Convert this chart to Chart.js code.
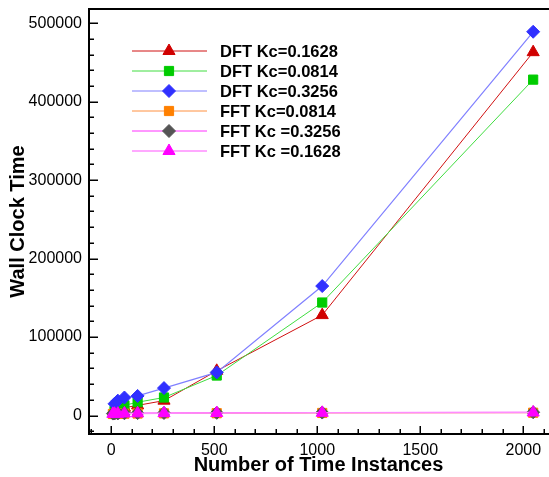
<!DOCTYPE html>
<html>
<head>
<meta charset="utf-8">
<script src="https://cdn.jsdelivr.net/npm/chart.js@4.4.1/dist/chart.umd.min.js"></script>
<style>
  html, body { margin: 0; padding: 0; background: #fff; }
  #wrap { width: 549px; height: 477px; }
</style>
</head>
<body>
<div id="wrap"><canvas id="c" width="549" height="477"></canvas></div>
<script>
// Problem sizes (number of time instances)
const dftSizes = [16, 32, 64, 128, 256, 512, 1024, 2048];
const fftSizes = [8, 16, 32, 64, 128, 256, 512, 1024, 2048];

// Wall clock time per method / Kc
const dftKc1628 = [5000, 7000, 10000, 13000, 19000, 57000, 128000, 463000];
const dftKc0814 = [6000, 9000, 13000, 17000, 23000, 51000, 144000, 428000];
const dftKc3256 = [15000, 19000, 23000, 25000, 35000, 55000, 165000, 489000];
const fftKc0814 = [2000, 2100, 2200, 2400, 2600, 2800, 3000, 3300, 3600];
const fftKc3256 = [2500, 2600, 2700, 2900, 3100, 3300, 3500, 3800, 4200];
const fftKc1628 = [2200, 2300, 2400, 2600, 2800, 3000, 3200, 3500, 3900];

const seriesNames = ['DFT Kc=0.1628', 'DFT Kc=0.0814', 'DFT Kc=0.3256',
                     'FFT Kc=0.0814', 'FFT Kc =0.3256', 'FFT Kc =0.1628'];

// Axis ticks
const xTicks = [0, 500, 1000, 1500, 2000];
const yTicks = [0, 100000, 200000, 300000, 400000, 500000];
const xMinorStep = 100;
const yMinorStep = 20000;

const xRange = [-108, 2120];
const yRange = [-23500, 518000];

function pts(xs, ys) { return xs.map((x, i) => ({ x: x, y: ys[i] })); }

const styles = [
  { line: '#d01010', lw: 1,   fill: '#d00000', shape: 'triangle', r: 7.5 },
  { line: '#40dd40', lw: 1,   fill: '#00cc00', shape: 'rect',     r: 7 },
  { line: '#8080ff', lw: 1.2, fill: '#3030ff', shape: 'rectRot',  r: 7 },
  { line: '#ff9040', lw: 1,   fill: '#ff8000', shape: 'rect',     r: 7 },
  { line: '#ff30ff', lw: 1,   fill: '#555555', shape: 'rectRot',  r: 7 },
  { line: '#ff8cff', lw: 1.6, fill: '#ff00ff', shape: 'triangle', r: 7.5 }
];

const seriesData = [
  pts(dftSizes, dftKc1628),
  pts(dftSizes, dftKc0814),
  pts(dftSizes, dftKc3256),
  pts(fftSizes, fftKc0814),
  pts(fftSizes, fftKc3256),
  pts(fftSizes, fftKc1628)
];

const datasets = seriesData.map((d, i) => ({
  label: seriesNames[i],
  data: d,
  borderColor: styles[i].line,
  borderWidth: styles[i].lw,
  backgroundColor: styles[i].fill,
  pointBackgroundColor: styles[i].fill,
  pointBorderColor: styles[i].fill,
  pointBorderWidth: 1,
  pointStyle: styles[i].shape,
  pointRadius: styles[i].r - 0.5,
  pointHoverRadius: styles[i].r - 0.5,
  tension: 0,
  fill: false,
  order: seriesNames.length - i
}));

// Let the plot area run to the right edge of the canvas
const fullWidthArea = {
  id: 'fullWidthArea',
  afterLayout(chart) {
    const a = chart.chartArea, x = chart.scales.x;
    a.right = chart.width - 1;
    a.width = a.right - a.left;
    x.right = a.right;
    x.width = x.right - x.left;
    x.configure();
  }
};

// Inward major/minor tick marks and the top frame line
const frameTicks = {
  id: 'frameTicks',
  afterDraw(chart) {
    const { ctx, chartArea: a, scales: { x, y } } = chart;
    ctx.save();
    ctx.strokeStyle = '#000';
    ctx.lineWidth = 2;
    ctx.beginPath();
    ctx.moveTo(a.left - 1, a.top);
    ctx.lineTo(a.right + 2, a.top);
    ctx.stroke();

    ctx.lineWidth = 1.5;
    ctx.beginPath();
    for (let v = Math.ceil(yRange[0] / yMinorStep) * yMinorStep; v <= yRange[1]; v += yMinorStep) {
      const py = Math.round(y.getPixelForValue(v)) + 0.25;
      const len = yTicks.includes(v) ? 9 : 5;
      ctx.moveTo(a.left, py);
      ctx.lineTo(a.left + len, py);
    }
    for (let v = Math.ceil(xRange[0] / xMinorStep) * xMinorStep; v <= xRange[1]; v += xMinorStep) {
      const px = Math.round(x.getPixelForValue(v)) + 0.25;
      const len = xTicks.includes(v) ? 8 : 5;
      ctx.moveTo(px, a.bottom);
      ctx.lineTo(px, a.bottom - len);
    }
    ctx.stroke();
    ctx.restore();
  }
};

// Legend with line sample and marker for every series
const lineLegend = {
  id: 'lineLegend',
  afterDraw(chart) {
    const ctx = chart.ctx;
    const x0 = 132, x1 = 207, xm = 169, xt = 220, y0 = 51, dy = 20;
    ctx.save();
    chart.data.datasets.forEach((ds, i) => {
      const yy = y0 + i * dy;
      ctx.strokeStyle = ds.borderColor;
      ctx.lineWidth = ds.borderWidth;
      ctx.beginPath();
      ctx.moveTo(x0, yy);
      ctx.lineTo(x1, yy);
      ctx.stroke();
      ctx.fillStyle = ds.pointBackgroundColor;
      ctx.strokeStyle = ds.pointBorderColor;
      ctx.lineWidth = 1;
      Chart.helpers.drawPoint(ctx, {
        pointStyle: ds.pointStyle, radius: ds.pointRadius, rotation: 0, borderWidth: 1
      }, xm, yy);
      ctx.fillStyle = '#000';
      ctx.font = 'bold 16.5px "Liberation Sans", Arial, sans-serif';
      ctx.textBaseline = 'middle';
      ctx.textAlign = 'left';
      ctx.fillText(ds.label, xt, yy + 1);
    });
    ctx.restore();
  }
};

const tickFont = { family: '"Liberation Sans", Arial, sans-serif', size: 16 };
const titleFont = { family: '"Liberation Sans", Arial, sans-serif', size: 20, weight: 'bold' };

function noEdgePadding(s) {
  s.paddingLeft = 0; s.paddingRight = 0; s.paddingTop = 0; s.paddingBottom = 0;
}

new Chart(document.getElementById('c'), {
  type: 'line',
  data: { datasets: datasets },
  options: {
    responsive: false,
    animation: false,
    devicePixelRatio: 1,
    layout: { padding: { left: 0, right: 1, top: 9, bottom: 0 } },
    plugins: { legend: { display: false }, tooltip: { enabled: false } },
    scales: {
      x: {
        type: 'linear',
        min: xRange[0],
        max: xRange[1],
        afterBuildTicks: s => { s.ticks = xTicks.map(v => ({ value: v })); },
        afterFit: s => { s.height = 43; noEdgePadding(s); },
        grid: { display: false, drawTicks: false },
        border: { display: true, color: '#000', width: 2 },
        ticks: { color: '#000', font: tickFont, padding: 7, maxRotation: 0, autoSkip: false,
                 callback: v => String(v) },
        title: { display: true, text: 'Number of Time Instances', color: '#000', font: titleFont, padding: { top: 0, bottom: 0 } }
      },
      y: {
        type: 'linear',
        min: yRange[0],
        max: yRange[1],
        afterBuildTicks: s => { s.ticks = yTicks.map(v => ({ value: v })); },
        afterFit: s => { s.width = 89; noEdgePadding(s); },
        grid: { display: false, drawTicks: false },
        border: { display: true, color: '#000', width: 2 },
        ticks: { color: '#000', font: tickFont, padding: 7, autoSkip: false,
                 callback: v => String(v) },
        title: { display: true, text: 'Wall Clock Time', color: '#000', font: titleFont, padding: { top: 6, bottom: 0 } }
      }
    }
  },
  plugins: [fullWidthArea, frameTicks, lineLegend]
});
</script>
</body>
</html>
